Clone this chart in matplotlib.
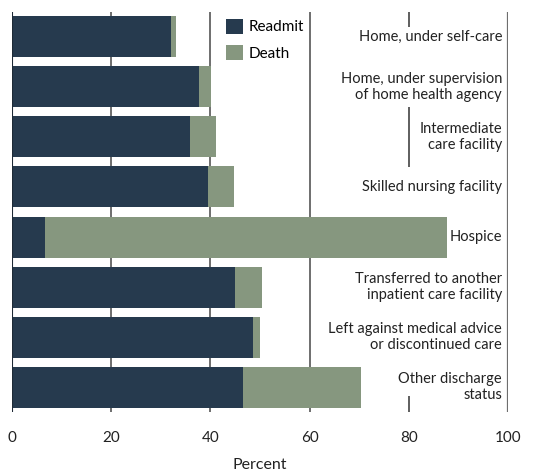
import matplotlib
matplotlib.use("Agg")
import matplotlib.pyplot as plt
import numpy as np

categories = [
    "Home, under self-care",
    "Home, under supervision\nof home health agency",
    "Intermediate\ncare facility",
    "Skilled nursing facility",
    "Hospice",
    "Transferred to another\ninpatient care facility",
    "Left against medical advice\nor discontinued care",
    "Other discharge\nstatus",
]
readmit = [32.1, 37.8, 35.9, 39.6, 6.7, 45.0, 48.5, 46.5]
death = [1.0, 2.3, 5.3, 5.2, 81.1, 5.5, 1.4, 23.9]
xticks = [0, 20, 40, 60, 80, 100]

c_readmit = "#263a4e"
c_death = "#86977f"
grid_c = "#555555"

plt.rcParams["font.family"] = ["Lato", "DejaVu Sans"]

fig = plt.figure(figsize=(5.34, 4.73), dpi=100)
ax = fig.add_axes([12/534, 1 - 412/473, 496/534, 400/473])

y = np.arange(len(categories))
ax.barh(y, readmit, height=0.82, color=c_readmit, zorder=2, label="Readmit")
ax.barh(y, death, left=readmit, height=0.82, color=c_death, zorder=2, label="Death")

n = len(categories)
ax.set_xlim(0, 100)
ax.set_ylim(n - 0.5, -0.5)
for xv in [20, 40, 60]:
    ax.axvline(xv, color=grid_c, lw=1.2, zorder=1)
# the 80 line shows only where the labels leave room for it
for lo, hi in [(-0.5, -0.2), (1.4, 2.6), (n - 0.82, n - 0.5)]:
    ax.vlines(80, lo, hi, color="#333333", lw=1.1, zorder=1)
ax.axvline(0, color="#1e2a36", lw=1.5, zorder=3)
ax.axvline(100, color="#6e6e6e", lw=1.6, zorder=5)

for s in ax.spines.values():
    s.set_visible(False)
ax.set_yticks([])
ax.set_xticks(xticks)
ax.set_xticklabels([str(v) for v in xticks], fontsize=11, color="#222222")
ax.tick_params(axis="x", length=0, pad=14)
ax.set_xlabel("Percent", fontsize=11.5, color="#222222", labelpad=9)

for yi, lab in zip(y, categories):
    ax.text(98.8, yi, lab, ha="right", va="center", fontsize=10.5, color="#222222",
            linespacing=1.25, zorder=4)

ax.legend(loc="upper left", bbox_to_anchor=(0.418, 1.0), frameon=False,
          fontsize=11, handlelength=1.1, handleheight=1.1, handletextpad=0.35,
          labelspacing=0.7, borderaxespad=0.05)

fig.savefig("out.png", dpi=100)
